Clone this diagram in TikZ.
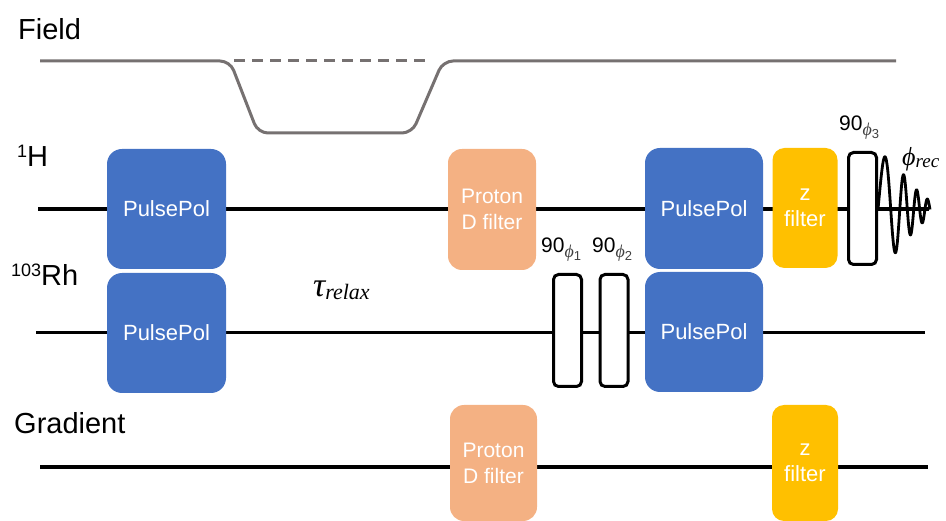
\documentclass[tikz,border=0pt]{standalone}
\usepackage{fontspec}
\setmainfont{Liberation Sans}
\newfontfamily\grk{Liberation Serif}
\usetikzlibrary{calc}
\definecolor{ppblue}{HTML}{4472C4}
\definecolor{dfilt}{HTML}{F4B183}
\definecolor{zfilt}{HTML}{FFC000}
\definecolor{fieldgray}{HTML}{767171}
\definecolor{subgray}{HTML}{404040}
\newcommand\supnum[1]{{\fontsize{18}{18}\selectfont\raisebox{9pt}{#1}}}
\newcommand\ninety[1]{90\raisebox{-5pt}{\fontsize{18}{18}\selectfont\color{subgray}{\grk\itshape ϕ}\raisebox{-3pt}{\fontsize{13}{13}\selectfont #1}}}
\begin{document}
\begin{tikzpicture}[x=1pt,y=-1pt,
  pp/.style={fill=ppblue, rounded corners=15pt, minimum width=119pt, minimum height=120pt, inner sep=0pt, text=white, font=\fontsize{22}{26}\selectfont},
  df/.style={fill=dfilt, rounded corners=14pt, minimum width=88pt, minimum height=121pt, inner sep=0pt, text=white, align=center, font=\fontsize{21}{26}\selectfont},
  zf/.style={fill=zfilt, rounded corners=12pt, minimum width=65pt, minimum height=120pt, inner sep=0pt, text=white, align=center, font=\fontsize{22}{26}\selectfont},
  pulsebox/.style={draw=black, fill=white, line width=3pt, rounded corners=5pt, minimum width=28pt, minimum height=112pt, inner sep=0pt},
  seqline/.style={line width=3.2pt, black},
  fieldline/.style={line width=3pt, fieldgray},
  lbl/.style={font=\fontsize{29}{30}\selectfont, anchor=base west, inner sep=0pt},
  plbl/.style={font=\fontsize{21}{22}\selectfont, anchor=base west, inner sep=0pt}
]
\useasboundingbox (0,0) rectangle (946,521);

% channel end points
\coordinate (fS) at (40,61);
\coordinate (fE) at (896,61);
\coordinate (hS) at (38,209);
\coordinate (hE) at (929,209);
\coordinate (rS) at (36,332.5);
\coordinate (rE) at (925,332.5);
\coordinate (gS) at (40,467);
\coordinate (gE) at (928,467);

% field profile
\draw[fieldline, rounded corners=10pt] (fS) -- (230,61) -- (258,133) -- (412,133) -- (443,61) -- (fE);
\draw[fieldline, dash pattern=on 11pt off 7pt] (234,61) -- (432,61);

% channel lines
\draw[seqline] (hS) -- (hE);
\draw[seqline] (rS) -- (rE);
\draw[seqline] (gS) -- (gE);

% labels
\node[lbl] (fieldlbl) at (18,40) {Field};
\node[lbl] (hlbl) at (17,167) {\supnum{1}H};
\node[lbl] (rhlbl) at (11,286) {\supnum{103}Rh};
\node[lbl] (gradlbl) at (14,434) {Gradient};

% blocks
\node[pp] (ppH1) at (166.5,209) {PulsePol};
\node[pp] (ppR1) at (166.5,333) {PulsePol};
\node[df] (dfH) at (492,209.5) {Proton\\D filter};
\node[pp, minimum width=118pt, minimum height=121pt] (ppH2) at (704,208.5) {PulsePol};
\node[pp, minimum width=118pt] (ppR2) at (704,332) {PulsePol};
\node[zf] (zfH) at (805,208) {z\\filter};
\node[df, minimum width=87pt, minimum height=116pt] (dfG) at (493.5,463) {Proton\\D filter};
\node[zf, minimum width=66pt, minimum height=116pt] (zfG) at (805,463) {z\\filter};

% hard pulses
\node[pulsebox] (p1) at (567.5,330.5) {};
\node[pulsebox] (p2) at (614,330.5) {};
\node[pulsebox] (p3) at (862.5,208.5) {};
\node[plbl] (l1) at (541,253) {\ninety{1}};
\node[plbl] (l2) at (592,253) {\ninety{2}};
\node[plbl] (l3) at (839,131) {\ninety{3}};

% FID
\draw[line width=2.8pt, black, line join=round]
  plot[variable=\t, domain=0:52, samples=300, smooth]
  ({878+\t},{209-54*exp(-(\t/38)^2)*sin(deg(0.19*\t+0.0045*\t*\t))});

% tau and receiver phase
\node[anchor=base west, inner sep=0pt, font=\grk\itshape] (tau) at (313,297)
  {\fontsize{34}{34}\selectfont τ\raisebox{-3pt}{\fontsize{22}{22}\selectfont relax}};
\node[anchor=base west, inner sep=0pt, font=\grk\itshape] (phirec) at (902,166)
  {\fontsize{26}{26}\selectfont ϕ\raisebox{-2pt}{\fontsize{19}{19}\selectfont rec}};
\end{tikzpicture}
\end{document}
